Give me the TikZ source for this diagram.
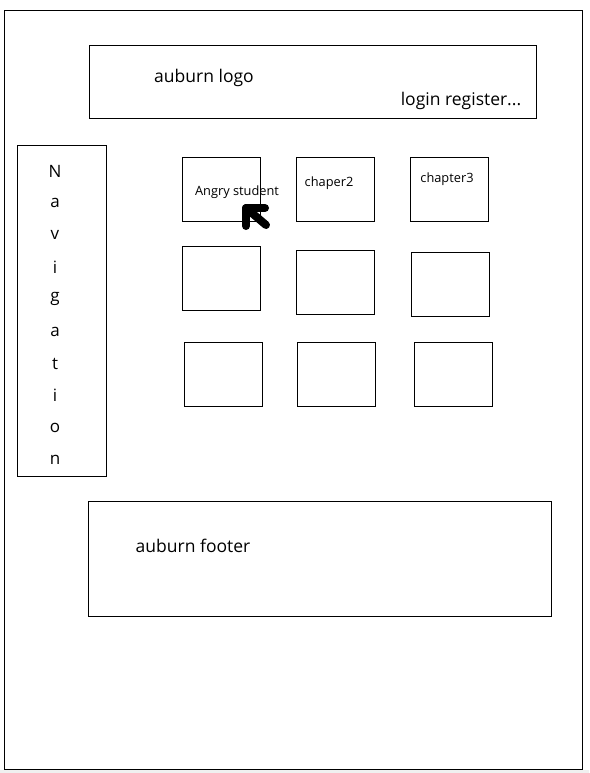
\documentclass[tikz,border=0pt]{standalone}
\usepackage{fontspec}
\setmainfont{Open Sans}
\begin{document}
\begin{tikzpicture}[x=1pt,y=-1pt,
  frame/.style={draw=black,line width=1pt},
  big/.style={font=\fontsize{17.5}{20}\selectfont,inner sep=0pt},
  small/.style={font=\fontsize{12.8}{15}\selectfont,inner sep=0pt},
  navletter/.style={font=\fontsize{17}{19}\selectfont,inner sep=0pt}]
\useasboundingbox (0,0) rectangle (589,773);
\fill[white] (0,0) rectangle (589,773);
\fill[black!6] (0,770) rectangle (589,773);
\draw[frame] (4,11) rectangle (582,769);
% header
\draw[frame] (89,46) rectangle (536,119);
\node[big] (logo) at (204,78) {auburn logo};
\node[big] (login) at (461,101) {login register...};
% navigation
\draw[frame] (17,145) rectangle (106,476);
\foreach \c [count=\i from 0] in {N,a,v,i,g,a,t,i,o,n}
  \node[navletter] (nav\i) at (55,{171+\i*32.1}) {\c};
% grid
\draw[frame] (182,157) rectangle (260,221);
\draw[frame] (296,157) rectangle (374,221);
\draw[frame] (410,157) rectangle (488,221);
\draw[frame] (182,246) rectangle (260,310);
\draw[frame] (296,250) rectangle (374,314);
\draw[frame] (411,252) rectangle (489,316);
\draw[frame] (184,342) rectangle (262,406);
\draw[frame] (297,342) rectangle (375,406);
\draw[frame] (414,342) rectangle (492,406);
\node[small] (angry) at (237,192) {Angry student};
\node[small] (ch2) at (329,183) {chaper2};
\node[small] (ch3) at (447,179) {chapter3};
% hand-drawn arrow
\draw[line width=8pt,line cap=round,line join=round] (246,226) -- (246,208) -- (265,208);
\draw[line width=8pt,line cap=round] (246,208) -- (266,225);
% footer
\draw[frame] (88,501) rectangle (551,616);
\node[big] (footer) at (193,546) {auburn footer};
\end{tikzpicture}
\end{document}
